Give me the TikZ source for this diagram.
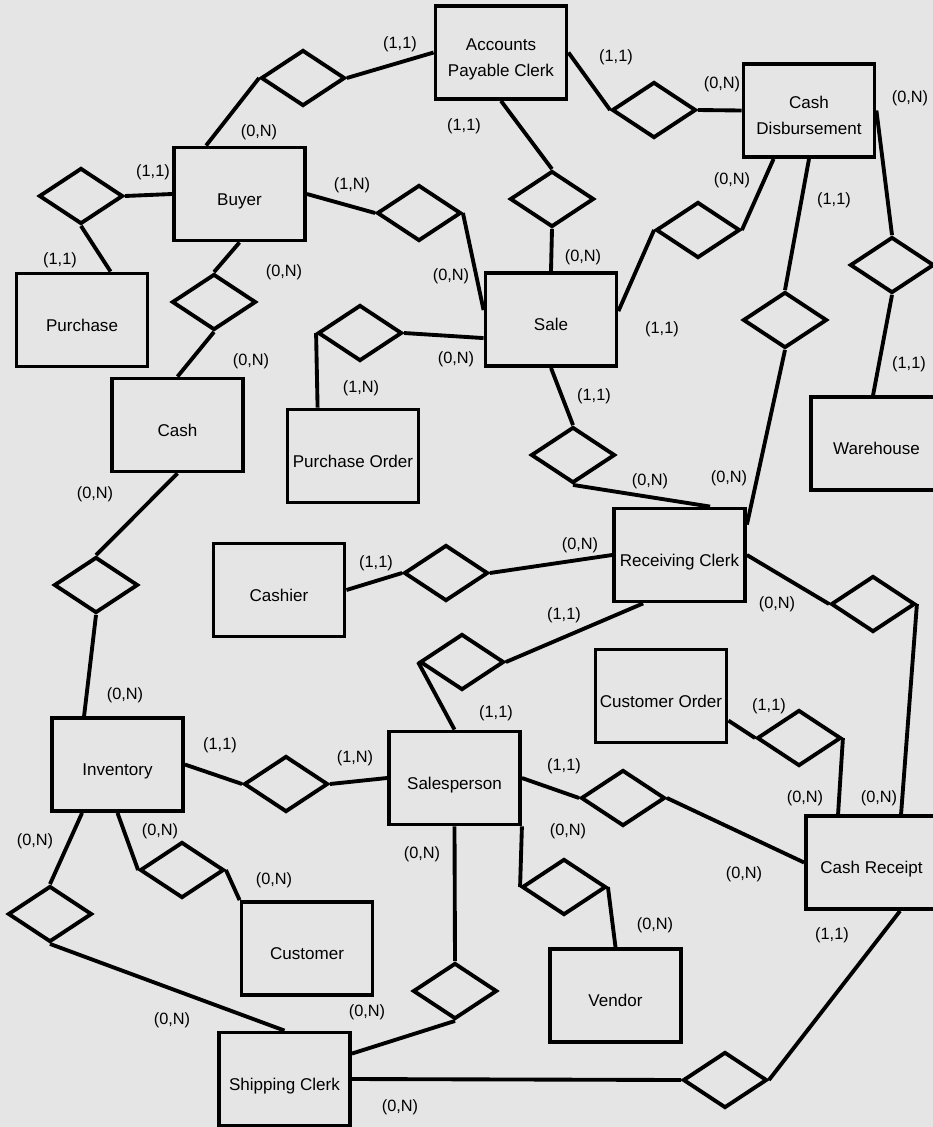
\documentclass[tikz,border=0pt]{standalone}
\usepackage{fontspec}
\setmainfont{Liberation Sans}
\usepackage{tikz}
\usetikzlibrary{calc,shapes.geometric}
\definecolor{paper}{RGB}{229,229,229}

\begin{document}
\begin{tikzpicture}[x=0.02cm,y=-0.02cm,line width=2.2pt,
	entity/.style={draw,rectangle,minimum width=2.62cm,minimum height=1.86cm,inner sep=1pt,align=center,
		font=\fontsize{9.7}{14.7}\selectfont,execute at begin node={\rule[-2pt]{0pt}{16.6pt}}},
	twoline/.style={text height=27.6pt,text depth=0pt},
	rel/.style={draw,diamond,minimum width=1.68cm,minimum height=1.12cm,inner sep=0pt},
	card/.style={inner sep=0pt,font=\fontsize{9.3}{11}\selectfont}]
		\useasboundingbox (0,0) rectangle (933,1127);
		\fill[paper] (0,0) rectangle (933,1127);
		\clip (0,0) rectangle (933,1127);
		% entities
		\node[entity,twoline] (apc) at (501,52.5) {Accounts\\Payable Clerk};
		\node[entity,twoline] (cd) at (809,110.5) {Cash\\Disbursement};
		\node[entity] (buyer) at (239.5,194) {Buyer};
		\node[entity] (purchase) at (82,320) {Purchase};
		\node[entity] (sale) at (551,319.5) {Sale};
		\node[entity] (cash) at (177.5,425) {Cash};
		\node[entity] (po) at (353,456) {Purchase Order};
		\node[entity] (wh) at (876.5,443.5) {Warehouse};
		\node[entity] (cashier) at (279,590) {Cashier};
		\node[entity] (rc) at (679.5,555) {Receiving Clerk};
		\node[entity] (co) at (661,696) {Customer Order};
		\node[entity] (inv) at (117.5,764.5) {Inventory};
		\node[entity] (sp) at (454.5,778) {Salesperson};
		\node[entity] (cr) at (871.5,862.5) {Cash Receipt};
		\node[entity] (cust) at (307,948.5) {Customer};
		\node[entity] (vendor) at (615.5,995.5) {Vendor};
		\node[entity] (ship) at (284.5,1079) {Shipping Clerk};
		% relationships
		\node[rel] (r1) at (303,78) {};
		\node[rel] (r2) at (81,196) {};
		\node[rel] (r3) at (214,302) {};
		\node[rel] (r4) at (419,213) {};
		\node[rel] (r5) at (654,110) {};
		\node[rel] (r6) at (552,199) {};
		\node[rel] (r7) at (698,230) {};
		\node[rel] (r8) at (785,320) {};
		\node[rel] (r9) at (892,265) {};
		\node[rel] (r10) at (360,333) {};
		\node[rel] (r11) at (573,455) {};
		\node[rel] (r12) at (96,585) {};
		\node[rel] (r13) at (446,573) {};
		\node[rel] (r14) at (462,662) {};
		\node[rel] (r15) at (873,604) {};
		\node[rel] (r16) at (799,738) {};
		\node[rel] (r17) at (286,784) {};
		\node[rel] (r18) at (623,798) {};
		\node[rel] (r19) at (182,870) {};
		\node[rel] (r20) at (50,914) {};
		\node[rel] (r21) at (564,887) {};
		\node[rel] (r22) at (455,991) {};
		\node[rel] (r23) at (725,1080) {};
		% links
		\draw (r1.west) -- ($(buyer.north west)+(34,0)$);
		\draw (r1.east) -- (apc.west);
		\draw (r2.east) -- (buyer.west);
		\draw (r2.south) -- ($(purchase.north west)+(96,0)$);
		\draw (r3.north) -- (buyer.south);
		\draw (r3.south) -- (cash.north);
		\draw (buyer.east) -- (r4.west);
		\draw (r4.east) -- ($(sale.north west)+(0,39)$);
		\draw (apc.south) -- (r6.north);
		\draw (r6.south) -- (sale.north);
		\draw (apc.east) -- (r5.west);
		\draw (r5.east) -- (cd.west);
		\draw ($(cd.south west)+(32,0)$) -- (r7.east);
		\draw (r7.west) -- ($(sale.north east)+(0,40)$);
		\draw (cd.south) -- (r8.north);
		\draw (r8.south) -- ($(rc.north east)+(0,18)$);
		\draw (cd.east) -- (r9.north);
		\draw (r9.south) -- ($(wh.north west)+(64,0)$);
		\draw (r10.east) -- ($(sale.north west)+(0,67)$);
		\draw (r10.west) -- ($(po.north west)+(32,0)$);
		\draw (sale.south) -- (r11.north);
		\draw (r11.south) -- ($(rc.north west)+(98,0)$);
		\draw (cash.south) -- (r12.north);
		\draw (r12.south) -- ($(inv.north west)+(34,0)$);
		\draw (cashier.east) -- (r13.west);
		\draw (r13.east) -- (rc.west);
		\draw ($(rc.south west)+(31,0)$) -- (r14.east);
		\draw (r14.west) -- (sp.north);
		\draw (rc.east) -- (r15.west);
		\draw (r15.east) -- ($(cr.north west)+(97,0)$);
		\draw ($(co.north east)+(0,73)$) -- (r16.west);
		\draw (r16.east) -- ($(cr.north west)+(34,0)$);
		\draw (inv.east) -- (r17.west);
		\draw (r17.east) -- (sp.west);
		\draw (sp.east) -- (r18.west);
		\draw (r18.east) -- (cr.west);
		\draw (inv.south) -- (r19.west);
		\draw (r19.east) -- (cust.north west);
		\draw ($(inv.south west)+(32,0)$) -- (r20.north);
		\draw (r20.south) -- (ship.north);
		\draw (sp.south) -- (r22.north);
		\draw (r22.south) -- ($(ship.north east)+(0,23)$);
		\draw (sp.south east) -- (r21.west);
		\draw (r21.east) -- (vendor.north);
		\draw (ship.east) -- (r23.west);
		\draw (r23.east) -- ($(cr.south west)+(96,0)$);
		% cardinalities
		\node[card] (c1) at (400,44) {(1,1)};
		\node[card] (c2) at (616,57) {(1,1)};
		\node[card] (c3) at (722,84) {(0,N)};
		\node[card] (c4) at (910,98) {(0,N)};
		\node[card] (c5) at (464,126) {(1,1)};
		\node[card] (c6) at (259,132) {(0,N)};
		\node[card] (c7) at (153,172) {(1,1)};
		\node[card] (c8) at (352,185) {(1,N)};
		\node[card] (c9) at (732,180) {(0,N)};
		\node[card] (c10) at (834,200) {(1,1)};
		\node[card] (c11) at (60,260) {(1,1)};
		\node[card] (c12) at (284,272) {(0,N)};
		\node[card] (c13) at (451,276) {(0,N)};
		\node[card] (c14) at (583,257) {(0,N)};
		\node[card] (c15) at (662,329) {(1,1)};
		\node[card] (c16) at (456,359) {(0,N)};
		\node[card] (c17) at (251,361) {(0,N)};
		\node[card] (c18) at (909,364) {(1,1)};
		\node[card] (c19) at (361,388) {(1,N)};
		\node[card] (c20) at (594,396) {(1,1)};
		\node[card] (c21) at (95,494) {(0,N)};
		\node[card] (c22) at (650,481) {(0,N)};
		\node[card] (c23) at (729,478) {(0,N)};
		\node[card] (c24) at (376,563) {(1,1)};
		\node[card] (c25) at (580,545) {(0,N)};
		\node[card] (c26) at (564,615) {(1,1)};
		\node[card] (c27) at (777,604) {(0,N)};
		\node[card] (c28) at (125,695) {(0,N)};
		\node[card] (c29) at (496,713) {(1,1)};
		\node[card] (c30) at (769,706) {(1,1)};
		\node[card] (c31) at (220,745) {(1,1)};
		\node[card] (c32) at (355,758) {(1,N)};
		\node[card] (c33) at (564,766) {(1,1)};
		\node[card] (c34) at (805,798) {(0,N)};
		\node[card] (c35) at (879,798) {(0,N)};
		\node[card] (c36) at (35,841) {(0,N)};
		\node[card] (c37) at (160,831) {(0,N)};
		\node[card] (c38) at (568,831) {(0,N)};
		\node[card] (c39) at (422,854) {(0,N)};
		\node[card] (c40) at (744,874) {(0,N)};
		\node[card] (c41) at (274,880) {(0,N)};
		\node[card] (c42) at (655,925) {(0,N)};
		\node[card] (c43) at (832,935) {(1,1)};
		\node[card] (c44) at (367,1012) {(0,N)};
		\node[card] (c45) at (172,1020) {(0,N)};
		\node[card] (c46) at (400,1107) {(0,N)};
	\end{tikzpicture}
\end{document}
